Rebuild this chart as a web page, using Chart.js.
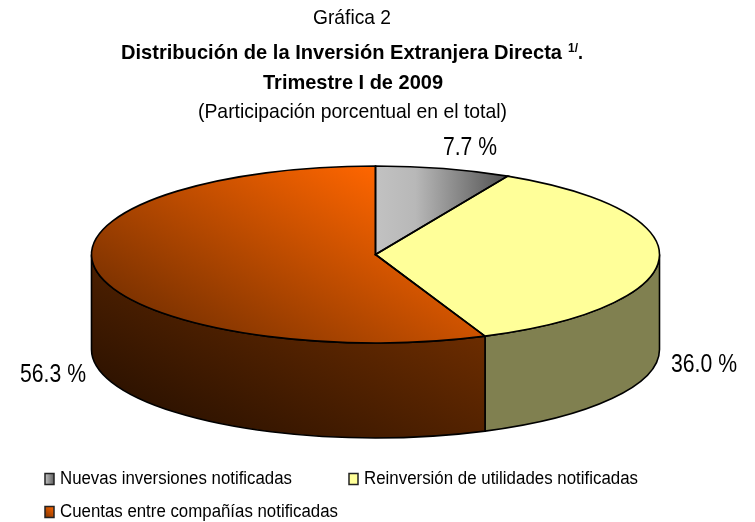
<!DOCTYPE html>
<html><head><meta charset="utf-8">
<style>html,body{margin:0;padding:0;background:#fff}canvas{display:block}</style>
<script src="https://cdn.jsdelivr.net/npm/chart.js@4/dist/chart.umd.min.js"></script>
</head><body><canvas id="c" width="755" height="522" style="width:755px;height:522px"></canvas>
<script>
const categories = ['Nuevas inversiones notificadas','Reinversión de utilidades notificadas','Cuentas entre compañías notificadas'];
const shares = [7.7, 36.0, 56.3];
const titleLine1 = 'Gráfica 2';
const titleLine2 = 'Distribución de la Inversión Extranjera Directa';
const titleSup = '1/';
const titleLine3 = 'Trimestre I de 2009';
const titleLine4 = '(Participación porcentual en el total)';

const FONT = '"Liberation Sans", Arial, sans-serif';
const RX = 284, DEPTH = 95;

function fit(ctx, text, x, y, font, w, color) {
  ctx.save();
  ctx.font = font; ctx.fillStyle = color || '#000';
  ctx.textAlign = 'left'; ctx.textBaseline = 'alphabetic';
  const m = ctx.measureText(text).width;
  ctx.translate(x, y); ctx.scale(w / m, 1);
  ctx.fillText(text, 0, 0);
  ctx.restore();
}
function sliceFill(c) {
  const ch = c.chart, a = ch.chartArea;
  if (!a) return '#888';
  const ctx = ch.ctx, cx = (a.left + a.right) / 2, cy = (a.top + a.bottom) / 2, r = (a.bottom - a.top) / 2;
  const sx = RX / r, top = cy - r;
  if (c.dataIndex === 0) {
    const g = ctx.createLinearGradient(cx, 0, cx + 133 / sx, 0);
    g.addColorStop(0, '#c2c2c2'); g.addColorStop(.3, '#b8b8b8'); g.addColorStop(1, '#505050');
    return g;
  }
  if (c.dataIndex === 1) return '#FFFF99';
  const g = ctx.createLinearGradient(cx, top, cx - 172, top + 91);
  g.addColorStop(0, '#FF6600'); g.addColorStop(1, '#401a00');
  return g;
}
const pie3d = {
  id: 'pie3d',
  beforeDatasetsDraw(ch) {
    const ctx = ch.ctx, arcs = ch.getDatasetMeta(0).data, p = arcs[0];
    const cx = p.x, cy = p.y, ry = p.outerRadius;
    const sx = RX / ry;
    arcs.forEach((arc, i) => {
      const s = Math.max(arc.startAngle, 0), e = Math.min(arc.endAngle, Math.PI);
      if (e <= s) return;
      ctx.beginPath();
      ctx.ellipse(cx, cy, RX, ry, 0, s, e);
      ctx.ellipse(cx, cy + DEPTH, RX, ry, 0, e, s, true);
      ctx.closePath();
      if (i === 2) {
        const g = ctx.createLinearGradient(486, 340, 360, 582);
        g.addColorStop(0, '#6b2c00'); g.addColorStop(1, '#1e0c00');
        ctx.fillStyle = g;
      } else ctx.fillStyle = '#808050';
      ctx.fill();
      ctx.lineWidth = 1.6; ctx.strokeStyle = '#000'; ctx.stroke();
    });
    ctx.save();
    ctx.translate(cx, 0); ctx.scale(sx, 1); ctx.translate(-cx, 0);
  },
  afterDatasetsDraw(ch) {
    const ctx = ch.ctx, arcs = ch.getDatasetMeta(0).data;
    ctx.restore();
    arcs.forEach(arc => {
      ctx.beginPath();
      ctx.moveTo(arc.x, arc.y);
      ctx.ellipse(arc.x, arc.y, RX, arc.outerRadius, 0, arc.startAngle, arc.endAngle);
      ctx.closePath();
      ctx.lineWidth = 1.6; ctx.strokeStyle = '#000'; ctx.stroke();
    });
    // slice labels
    const pct = v => v.toFixed(1) + ' %';
    const lf = '26px ' + FONT;
    fit(ctx, pct(shares[0]), 443, 155, lf, 54);
    fit(ctx, pct(shares[1]), 671, 372, lf, 66);
    fit(ctx, pct(shares[2]), 20, 382, lf, 66);
    // titles
    fit(ctx, titleLine1, 313, 24, '21px ' + FONT, 78);
    const bf = 'bold 21px ' + FONT;
    fit(ctx, titleLine2, 121, 59, bf, 441);
    fit(ctx, titleSup, 568, 52, 'bold 13px ' + FONT, 10);
    fit(ctx, '.', 578, 59, bf, 5);
    fit(ctx, titleLine3, 263, 89, bf, 180);
    fit(ctx, titleLine4, 198, 118, '21px ' + FONT, 309);
    // legend
    const lg = [[45, 473.5, 60, 484, 232], [349, 473.5, 364, 484, 274], [45, 506.5, 60, 517, 278]];
    categories.forEach((t, i) => {
      const [bx, by, tx, ty, w] = lg[i];
      let f;
      if (i === 0) { f = ctx.createLinearGradient(bx, 0, bx + 9, 0); f.addColorStop(0, '#c2c2c2'); f.addColorStop(1, '#606060'); }
      else if (i === 1) f = '#FFFF99';
      else { f = ctx.createLinearGradient(bx + 9, by, bx, by + 11); f.addColorStop(0, '#FF6600'); f.addColorStop(1, '#803400'); }
      ctx.fillStyle = f; ctx.fillRect(bx, by, 9, 11);
      ctx.lineWidth = 1.5; ctx.strokeStyle = '#222'; ctx.strokeRect(bx, by, 9, 11);
      fit(ctx, t, tx, ty, '18px ' + FONT, w);
    });
  }
};
new Chart(document.getElementById('c'), {
  type: 'pie',
  data: { labels: categories, datasets: [{ data: shares, backgroundColor: sliceFill, borderWidth: 0, clip: false }] },
  options: {
    responsive: false, animation: false,
    layout: { padding: { left: 0, right: 4, top: 166, bottom: 179 } },
    plugins: { legend: { display: false }, title: { display: false }, tooltip: { enabled: false } }
  },
  plugins: [pie3d]
});
</script></body></html>
